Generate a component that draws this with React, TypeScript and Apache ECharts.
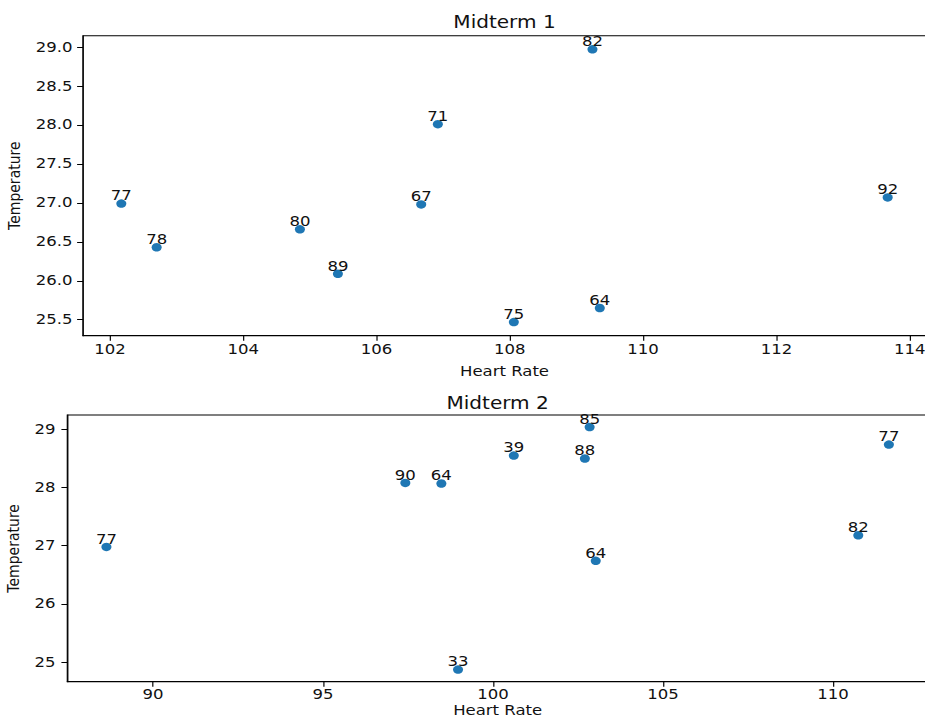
import React, { useEffect, useRef } from "react";
import * as echarts from "echarts";

// ---- Data ----
const heartRate1 = [102.17, 102.7, 104.85, 105.42, 106.67, 106.92, 108.06, 109.24, 109.35, 113.67];
const temp1 = [26.99, 26.43, 26.66, 26.09, 26.98, 28.01, 25.47, 28.97, 25.65, 27.07];
const scores1 = [77, 78, 80, 89, 67, 71, 75, 82, 64, 92];

const heartRate2 = [88.63, 97.42, 98.48, 100.61, 102.7, 102.84, 103.02, 98.97, 110.74, 111.64];
const temp2 = [26.98, 28.08, 28.07, 28.55, 28.5, 29.04, 26.74, 24.87, 27.18, 28.74];
const scores2 = [77, 90, 64, 39, 88, 85, 64, 33, 82, 77];

const xTicks1 = [102, 104, 106, 108, 110, 112, 114];
const yTicks1 = [25.5, 26.0, 26.5, 27.0, 27.5, 28.0, 28.5, 29.0];
const xTicks2 = [90, 95, 100, 105, 110];
const yTicks2 = [25, 26, 27, 28, 29];

const titles = ["Midterm 1", "Midterm 2"];
const xName = "Heart Rate";
const yName = "Temperature";

// The reference is horizontally stretched; render narrower and stretch with CSS.
const S = 1.18;
const W = 925;
const H = 718;
const FONT = "DejaVu Sans";
const INK = "#111";
const DOT = "#1f77b4";

function padRange(vals: number[]) {
  const mn = Math.min(...vals);
  const mx = Math.max(...vals);
  const m = (mx - mn) * 0.05;
  return [mn - m, mx + m];
}

function triples(xs: number[], ys: number[], ls: number[]) {
  return xs.map((x, i) => [x, ys[i], ls[i]]);
}

export default function App() {
  const ref = useRef<HTMLDivElement>(null);

  useEffect(() => {
    if (!ref.current) return;
    const chart = echarts.init(ref.current, null, { renderer: "svg" });

    const [x1min, x1max] = padRange(heartRate1);
    const [y1min, y1max] = padRange(temp1);
    const [x2min, x2max] = padRange(heartRate2);
    const [y2min, y2max] = padRange(temp2);

    const lineStyle = { color: "#000", width: 1 };
    const tickCommon = { show: true, inside: false, length: 5, lineStyle };
    const labelStyle = { color: INK, fontSize: 14, fontFamily: FONT };

    const mkX = (idx: number, min: number, max: number, ticks: number[], margin: number, nameGap: number) => ({
      type: "value",
      gridIndex: idx,
      min,
      max,
      name: xName,
      nameLocation: "middle",
      nameGap,
      nameTextStyle: { color: INK, fontSize: 14, fontFamily: FONT, lineHeight: 15 },
      axisLine: { show: true, onZero: false, lineStyle },
      axisTick: { ...tickCommon, customValues: ticks },
      axisLabel: {
        ...labelStyle,
        margin,
        customValues: ticks,
        formatter: (v: number) => String(Math.round(v)),
      },
      splitLine: { show: false },
    });

    const mkY = (
      idx: number,
      min: number,
      max: number,
      ticks: number[],
      margin: number,
      nameGap: number,
      dec: number
    ) => ({
      type: "value",
      gridIndex: idx,
      min,
      max,
      name: yName,
      nameLocation: "middle",
      nameGap,
      nameRotate: 90,
      nameTextStyle: { color: INK, fontSize: 14, fontFamily: FONT },
      axisLine: { show: true, onZero: false, lineStyle },
      axisTick: { ...tickCommon, customValues: ticks },
      axisLabel: {
        ...labelStyle,
        margin,
        customValues: ticks,
        formatter: (v: number) => v.toFixed(dec),
      },
      splitLine: { show: false },
    });

    const mkSeries = (idx: number, data: number[][]) => ({
      type: "scatter",
      xAxisIndex: idx,
      yAxisIndex: idx,
      data,
      symbol: "circle",
      symbolSize: 8.5,
      itemStyle: { color: DOT, opacity: 1 },
      label: {
        show: true,
        position: "top",
        distance: -3.5,
        color: INK,
        fontSize: 14,
        fontFamily: FONT,
        formatter: (p: any) => String(p.value[2]),
      },
      emphasis: { disabled: true },
    });

    const grid1 = { left: 83 / S, top: 35.7, width: (926 - 83) / S, height: 300 };
    const grid2 = { left: 67.3 / S, top: 415, width: (928 - 67.3) / S, height: 266.7 };
    const gridCommon = {
      show: true,
      borderColor: "#000",
      borderWidth: 1,
      backgroundColor: "transparent",
      containLabel: false,
      outerBoundsMode: "none",
    };

    chart.setOption({
      animation: false,
      backgroundColor: "#fff",
      title: [
        {
          text: titles[0],
          left: 504.5 / S,
          top: 14,
          textAlign: "center",
          padding: 0,
          textStyle: { color: INK, fontSize: 17, fontWeight: "normal", fontFamily: FONT },
        },
        {
          text: titles[1],
          left: 497.6 / S,
          top: 395,
          textAlign: "center",
          padding: 0,
          textStyle: { color: INK, fontSize: 17, fontWeight: "normal", fontFamily: FONT },
        },
      ],
      grid: [
        { ...grid1, ...gridCommon },
        { ...grid2, ...gridCommon },
      ],
      xAxis: [mkX(0, x1min, x1max, xTicks1, 7, 28), mkX(1, x2min, x2max, xTicks2, 6, 21)],
      yAxis: [mkY(0, y1min, y1max, yTicks1, 9, 46, 1), mkY(1, y2min, y2max, yTicks2, 10, 33, 0)],
      series: [
        mkSeries(0, triples(heartRate1, temp1, scores1)),
        mkSeries(1, triples(heartRate2, temp2, scores2)),
      ],
    });

    return () => chart.dispose();
  }, []);

  return (
    <div
      style={{
        position: "absolute",
        left: 0,
        top: 0,
        width: W,
        height: H,
        overflow: "hidden",
        background: "#fff",
      }}
    >
      <div
        ref={ref}
        style={{
          width: W / S,
          height: H,
          transform: `scaleX(${S})`,
          transformOrigin: "0 0",
        }}
      />
    </div>
  );
}
